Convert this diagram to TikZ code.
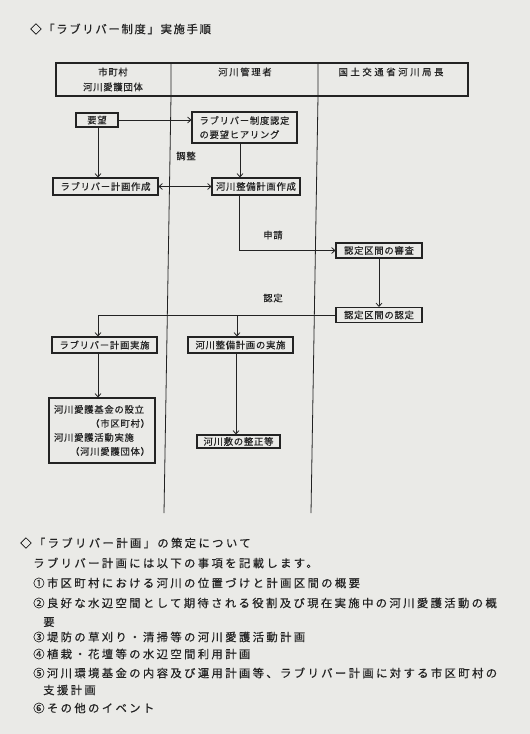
\documentclass[tikz,border=0pt]{standalone}
\usepackage{fontspec}
\setmainfont{Noto Sans CJK JP}[FakeBold=0.4]
\newfontfamily\jpbox[LetterSpace=8,FakeBold=0.4]{Noto Sans CJK JP}
\newfontfamily\jphead[LetterSpace=18,FakeBold=0.4]{Noto Sans CJK JP}
\newfontfamily\jpwide[LetterSpace=28,FakeBold=0.4]{Noto Sans CJK JP}
\newfontfamily\jptitle[LetterSpace=15,FakeBold=0.5]{Noto Sans CJK JP}
\newfontfamily\jpnote[LetterSpace=21,FakeBold=0.5]{Noto Sans CJK JP}
\usetikzlibrary{arrows.meta}
\definecolor{paper}{RGB}{234,234,231}
\definecolor{ink}{RGB}{35,35,35}
\begin{document}
\begin{tikzpicture}[x=0.75pt,y=0.75pt,yscale=-1,xscale=1,
  stepbox/.style={draw=ink,line width=0.8pt,inner sep=0pt,text=ink,font=\jpbox\fontsize{7pt}{10.5pt}\selectfont},
  lbl/.style={inner sep=0.75pt,text=ink,font=\jpbox\fontsize{7pt}{9pt}\selectfont},
  note/.style={anchor=west,inner sep=0pt,text=ink,font=\jpnote\fontsize{8.5pt}{10pt}\selectfont},
  flow/.style={draw=ink,line width=0.6pt,-{Straight Barb[length=2.5pt,width=4.5pt]}},
  flowboth/.style={draw=ink,line width=0.6pt,{Straight Barb[length=2.5pt,width=4.5pt]}-{Straight Barb[length=2.5pt,width=4.5pt]}}]
    %set diagram size 530 x 734
    \fill [paper] (0,0) rectangle (530,734);
    \useasboundingbox (0,0) rectangle (530,734);

    % Title
    \draw (30,29) node [anchor=west,inner sep=0pt,text=ink,font=\jptitle\fontsize{8.5pt}{10pt}\selectfont] (title) {◇「ラブリバー制度」実施手順};

    %Shape: header table
    \draw [ink,line width=0.8pt] (56,63) rectangle (468,96) ;
    %Straight Lines: lane dividers
    \draw [ink,line width=0.6pt] (171,63) -- (171,96) -- (164,513) ;
    \draw [ink,line width=0.6pt] (318,63) -- (318,96) -- (311,513) ;
    % Header texts
    \draw (113,72) node [lbl] (laneA) {市町村};
    \draw (113,87) node [lbl] (laneAb) {河川愛護団体};
    \draw (245,72) node [lbl,font=\jphead\fontsize{7pt}{9pt}\selectfont] (laneB) {河川管理者};
    \draw (391,72) node [lbl,font=\jpwide\fontsize{7pt}{9pt}\selectfont] (laneC) {国土交通省河川局長};

    % x positions of the connectors
    \coordinate (x98) at (98,0);
    \coordinate (x236) at (236,0);
    \coordinate (x237) at (237,0);
    \coordinate (x239) at (239,0);
    \coordinate (x240) at (240,0);

    % Boxes
    \draw (97,120) node [stepbox,minimum width=31.5pt,minimum height=10.5pt] (yobo) {要望};
    \draw (244.5,127.5) node [stepbox,minimum width=78.75pt,minimum height=23.25pt,align=left] (hearing) {ラブリバー制度認定\\の要望ヒアリング};
    \draw (105.5,186.5) node [stepbox,minimum width=78.75pt,minimum height=12.75pt] (lrplan) {ラブリバー計画作成};
    \draw (256,186.5) node [stepbox,minimum width=66pt,minimum height=12.75pt] (seibi) {河川整備計画作成};
    \draw (379,250.5) node [stepbox,minimum width=64.5pt,minimum height=11.25pt] (shinsa) {認定区間の審査};
    \draw (379,315) node [stepbox,minimum width=64.5pt,minimum height=11.25pt] (nintei) {認定区間の認定};
    \draw (104.5,345) node [stepbox,minimum width=78.75pt,minimum height=12pt] (lrjisshi) {ラブリバー計画実施};
    \draw (240.5,345) node [stepbox,minimum width=78.75pt,minimum height=12pt] (seibijisshi) {河川整備計画の実施};
    \draw (102,430.5) node [stepbox,minimum width=79.5pt,minimum height=48.75pt,text width=72pt,align=left] (kikin) {河川愛護基金の設立\\\hspace*{\fill}（市区町村）\\河川愛護活動実施\\\hspace*{\fill}（河川愛護団体）};
    \draw (238.5,441.5) node [stepbox,minimum width=62.25pt,minimum height=9.75pt] (seisei) {河川敷の整正等};

    % Labels on the connectors
    \draw (186,156) node [lbl] (chosei) {調整};
    \draw (273,235) node [lbl] (shinsei) {申請};
    \draw (273,298) node [lbl] (ninteilbl) {認定};

    % Connectors
    \draw [flow] (yobo) -- (yobo -| hearing.west) ;
    \draw [flow] (yobo.south -| x98) -- (lrplan.north -| x98) ;
    \draw [flow] (hearing.south -| x240) -- (seibi.north -| x240) ;
    \draw [flowboth] (lrplan.east) -- (seibi.west) ;
    \draw [flow] (seibi.south -| x239) |- (shinsa.west) ;
    \draw [flow] (shinsa) -- (nintei) ;
    \draw [flow] (nintei.west) -| (lrjisshi.north -| x98) ;
    \draw [flow] (nintei.west -| x237) -- (seibijisshi.north -| x237) ;
    \draw [flow] (lrjisshi.south -| x98) -- (kikin.north -| x98) ;
    \draw [flow] (seibijisshi.south -| x236) -- (seisei.north -| x236) ;

    % Text under the chart
    \draw (20,543) node [note] (note1) {◇「ラブリバー計画」の策定について};
    \draw (33,563) node [note] (note2) {ラブリバー計画には以下の事項を記載します。};
    \draw (33,583) node [note] (note3) {①市区町村における河川の位置づけと計画区間の概要};
    \draw (33,603) node [note] (note4) {②良好な水辺空間として期待される役割及び現在実施中の河川愛護活動の概};
    \draw (43,622) node [note] (note5) {要};
    \draw (33,637) node [note] (note6) {③堤防の草刈り・清掃等の河川愛護活動計画};
    \draw (33,654) node [note] (note7) {④植栽・花壇等の水辺空間利用計画};
    \draw (33,673) node [note] (note8) {⑤河川環境基金の内容及び運用計画等、ラブリバー計画に対する市区町村の};
    \draw (43,690) node [note] (note9) {支援計画};
    \draw (33,708) node [note] (note10) {⑥その他のイベント};
\end{tikzpicture}
\end{document}
